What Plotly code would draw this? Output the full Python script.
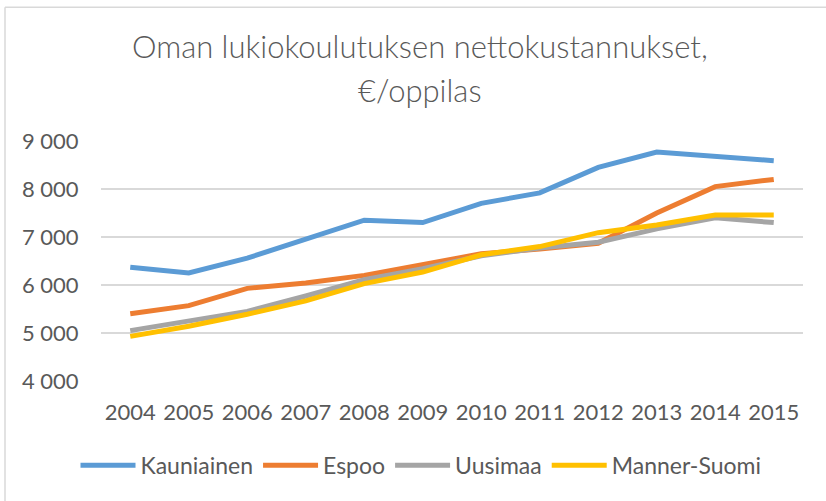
import plotly.graph_objects as go

years = ["2004", "2005", "2006", "2007", "2008", "2009",
         "2010", "2011", "2012", "2013", "2014", "2015"]

kauniainen = [6370, 6250, 6560, 6960, 7350, 7300, 7700, 7920, 8450, 8770, 8680, 8590]
espoo = [5400, 5570, 5930, 6040, 6200, 6420, 6650, 6750, 6870, 7500, 8050, 8200]
uusimaa = [5050, 5260, 5450, 5770, 6110, 6340, 6610, 6770, 6890, 7170, 7400, 7300]
manner_suomi = [4930, 5140, 5390, 5670, 6030, 6270, 6630, 6800, 7090, 7250, 7460, 7460]

series = [
    ("Kauniainen", kauniainen, "#5B9BD5"),
    ("Espoo", espoo, "#ED7D31"),
    ("Uusimaa", uusimaa, "#A5A5A5"),
    ("Manner-Suomi", manner_suomi, "#FFC000"),
]

y_ticks = [4000, 5000, 6000, 7000, 8000, 9000]
y_tick_text = ["4 000", "5 000", "6 000", "7 000", "8 000", "9 000"]

font_family = "Lato, 'Open Sans', sans-serif"
text_color = "#595959"

fig = go.Figure()
for name, values, color in series:
    fig.add_trace(go.Scatter(
        x=list(range(len(years))), y=values, name=name, mode="lines",
        line=dict(color=color, width=5, shape="linear"),
    ))

W, H = 826, 501
left, right, top, bottom = 101, 23, 141, 119.5
plot_h = H - top - bottom
plot_w = W - left - right


def py(pixel_y):
    return (H - bottom - pixel_y) / plot_h


def px(pixel_x):
    return (pixel_x - left) / plot_w


title_font = dict(size=31, color=text_color, family=font_family, weight=300)

fig.update_layout(
    width=W, height=H,
    margin=dict(l=left, r=right, t=top, b=bottom),
    paper_bgcolor="white", plot_bgcolor="white",
    font=dict(family=font_family, color=text_color),
    showlegend=True,
    legend=dict(
        orientation="h", x=px(421), y=py(466), xanchor="center", yanchor="middle",
        font=dict(size=23, color=text_color), itemwidth=55,
        bgcolor="rgba(0,0,0,0)",
    ),
    xaxis=dict(
        range=[-0.5, len(years) - 0.5],
        tickmode="array", tickvals=list(range(len(years))), ticktext=years,
        tickfont=dict(size=22, color=text_color),
        showgrid=False, zeroline=False, showline=False,
        ticks="outside", ticklen=12, tickcolor="rgba(0,0,0,0)",
        fixedrange=True,
    ),
    yaxis=dict(
        range=[4000, 9000],
        tickmode="array", tickvals=y_ticks, ticktext=y_tick_text,
        tickfont=dict(size=22, color=text_color),
        showgrid=True, gridcolor="#D9D9D9", gridwidth=1.5,
        zeroline=False, showline=False,
        ticks="outside", ticklen=17, tickcolor="rgba(0,0,0,0)",
        fixedrange=True,
    ),
    annotations=[
        dict(text="Oman lukiokoulutuksen nettokustannukset,", xref="paper", yref="paper",
             x=px(420), y=py(46), xanchor="center", yanchor="middle", showarrow=False,
             font=title_font),
        dict(text="€/oppilas", xref="paper", yref="paper",
             x=px(420), y=py(90), xanchor="center", yanchor="middle", showarrow=False,
             font=title_font),
    ],
    shapes=[
        dict(type="line", xref="paper", yref="paper", x0=px(5), x1=px(830),
             y0=py(7), y1=py(7), line=dict(color="#D9D9D9", width=1.5), layer="below"),
        dict(type="line", xref="paper", yref="paper", x0=px(5), x1=px(5),
             y0=py(7), y1=py(510), line=dict(color="#D9D9D9", width=1.5), layer="below"),
    ],
)

fig.write_html("out.html")
